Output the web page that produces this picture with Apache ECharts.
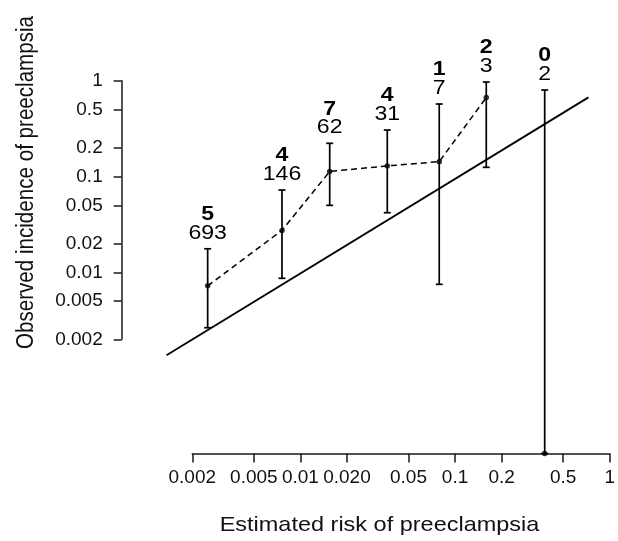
<!DOCTYPE html>
<html>
<head>
<meta charset="utf-8">
<script src="https://cdn.jsdelivr.net/npm/echarts@6/dist/echarts.min.js"></script>
<style>
html,body{margin:0;padding:0;background:#fff;}
#chart{width:618px;height:541px;}
</style>
</head>
<body>
<div id="chart"></div>
<script>
// ---- data ----
const xTickValues = [0.002, 0.005, 0.01, 0.02, 0.05, 0.1, 0.2, 0.5, 1];
const xTickLabels = ['0.002', '0.005', '0.01', '0.020', '0.05', '0.1', '0.2', '0.5', '1'];
const yTickValues = [0.002, 0.005, 0.01, 0.02, 0.05, 0.1, 0.2, 0.5, 1];
const yTickLabels = ['0.002', '0.005', '0.01', '0.02', '0.05', '0.1', '0.2', '0.5', '1'];

const estimatedRisk = [0.00249, 0.00742, 0.01496, 0.03486, 0.0748, 0.1493, 0.3523];
const observedInc   = [0.00722, 0.0274, 0.1129, 0.129, 0.1429, 0.6667, 0];
const ciLower       = [0.00264, 0.00866, 0.0500, 0.0419, 0.00749, 0.1247, 0];
const ciUpper       = [0.0176, 0.0723, 0.2221, 0.3058, 0.571, 0.969, 0.7996];
const eventCounts   = [5, 4, 7, 4, 1, 2, 0];
const groupSizes    = [693, 146, 62, 31, 7, 3, 2];
const identityLine  = [[0.00136, 0.00136], [0.67, 0.67]];

// extent of the plotting region (zero values are drawn at the bottom)
const xFloor = 7.04e-4;
const yFloor = 1.285e-4;
const floorIt = v => (v > 0 ? v : yFloor);

const FONT = '"Liberation Sans", Arial, Helvetica, sans-serif';

const chart = echarts.init(document.getElementById('chart'), null, {renderer: 'canvas'});

const dotData = estimatedRisk.map((x, i) => [x, floorIt(observedInc[i])]);
const dashData = estimatedRisk.map((x, i) => [x, observedInc[i]]).filter(d => d[1] > 0);
const errData = estimatedRisk.map((x, i) => [x, floorIt(ciLower[i]), ciUpper[i], eventCounts[i], groupSizes[i]]);

const axisColor = '#1a1a1a';
const labelFmt = (vals, labels) => v => {
  const i = vals.findIndex(t => Math.abs(Math.log10(t) - Math.log10(v)) < 1e-6);
  return i >= 0 ? labels[i] : '';
};

const option = {
  animation: false,
  backgroundColor: '#ffffff',
  grid: [
    {left: 121.7, width: 494, top: 80.7, height: 372.8},      // plotting region
    {left: 121.7, width: 60, top: 80.7, height: 258.6},       // y axis
    {left: 192.3, width: 423.4, top: 80.7, height: 372.8}     // x axis
  ],
  xAxis: [
    {gridIndex: 0, type: 'log', logBase: 10, min: xFloor, max: 1, show: false},
    {gridIndex: 1, type: 'value', min: 0, max: 1, show: false},
    {
      gridIndex: 2, type: 'log', logBase: 10, min: 0.002, max: 1,
      axisLine: {show: true, onZero: false, lineStyle: {color: axisColor, width: 1.5}},
      axisTick: {show: true, length: 9, customValues: xTickValues, lineStyle: {color: axisColor, width: 1.5}},
      axisLabel: {
        show: true, margin: 15, customValues: xTickValues,
        fontFamily: FONT, fontSize: 19, color: '#111',
        formatter: labelFmt(xTickValues, xTickLabels)
      },
      splitLine: {show: false}, minorTick: {show: false}
    }
  ],
  yAxis: [
    {gridIndex: 0, type: 'log', logBase: 10, min: yFloor, max: 1, show: false},
    {
      gridIndex: 1, type: 'log', logBase: 10, min: 0.002, max: 1,
      axisLine: {show: true, onZero: false, lineStyle: {color: axisColor, width: 1.5}},
      axisTick: {show: true, length: 8, customValues: yTickValues, lineStyle: {color: axisColor, width: 1.5}},
      axisLabel: {
        show: true, margin: 19, customValues: yTickValues,
        fontFamily: FONT, fontSize: 19, color: '#111',
        formatter: labelFmt(yTickValues, yTickLabels)
      },
      splitLine: {show: false}, minorTick: {show: false}
    },
    {gridIndex: 2, type: 'value', min: 0, max: 1, show: false}
  ],
  graphic: [
    {
      type: 'text', x: 379.5, y: 525, scaleX: 1.14,
      style: {text: 'Estimated risk of preeclampsia', font: '20.6px ' + FONT, fill: '#111',
              textAlign: 'center', textVerticalAlign: 'middle', verticalAlign: 'middle'}
    },
    {
      type: 'text', x: 26.7, y: 182.5, rotation: Math.PI / 2, scaleY: 1.14,
      style: {text: 'Observed incidence of preeclampsia', font: '20.6px ' + FONT, fill: '#111',
              textAlign: 'center', textVerticalAlign: 'middle', verticalAlign: 'middle'}
    }
  ],
  series: [
    {
      type: 'line', xAxisIndex: 0, yAxisIndex: 0, data: identityLine,
      symbol: 'none', lineStyle: {color: '#000', width: 1.8, type: 'solid'}, silent: true, z: 2
    },
    {
      type: 'line', xAxisIndex: 0, yAxisIndex: 0, data: dashData,
      symbol: 'none', lineStyle: {color: '#000', width: 1.5, type: [6, 4]}, silent: true, z: 3
    },
    {
      type: 'custom', xAxisIndex: 0, yAxisIndex: 0, data: errData, clip: false, z: 4,
      renderItem: function (params, api) {
        const x = api.value(0);
        const top = api.coord([x, api.value(2)]);
        const bot = api.coord([x, api.value(1)]);
        const cw = 3.5;
        const ls = {stroke: '#000', lineWidth: 1.7};
        return {
          type: 'group',
          children: [
            {type: 'line', shape: {x1: top[0], y1: top[1], x2: bot[0], y2: bot[1]}, style: ls},
            {type: 'line', shape: {x1: top[0] - cw, y1: top[1], x2: top[0] + cw, y2: top[1]}, style: ls},
            {type: 'line', shape: {x1: bot[0] - cw, y1: bot[1], x2: bot[0] + cw, y2: bot[1]}, style: ls},
            {type: 'text', x: top[0], y: top[1] - 16, scaleX: 1.1,
             style: {text: String(api.value(4)), font: '21px ' + FONT, fill: '#000',
                     textAlign: 'center', textVerticalAlign: 'middle', verticalAlign: 'middle'}},
            {type: 'text', x: top[0], y: top[1] - 34.5, scaleX: 1.1,
             style: {text: String(api.value(3)), font: 'bold 21px ' + FONT, fill: '#000',
                     textAlign: 'center', textVerticalAlign: 'middle', verticalAlign: 'middle'}}
          ]
        };
      }
    },
    {
      type: 'scatter', xAxisIndex: 0, yAxisIndex: 0, data: dotData,
      symbol: 'circle', symbolSize: 5.5, itemStyle: {color: '#000'}, silent: true, z: 5, clip: false
    }
  ]
};
chart.setOption(option);
</script>
</body>
</html>
